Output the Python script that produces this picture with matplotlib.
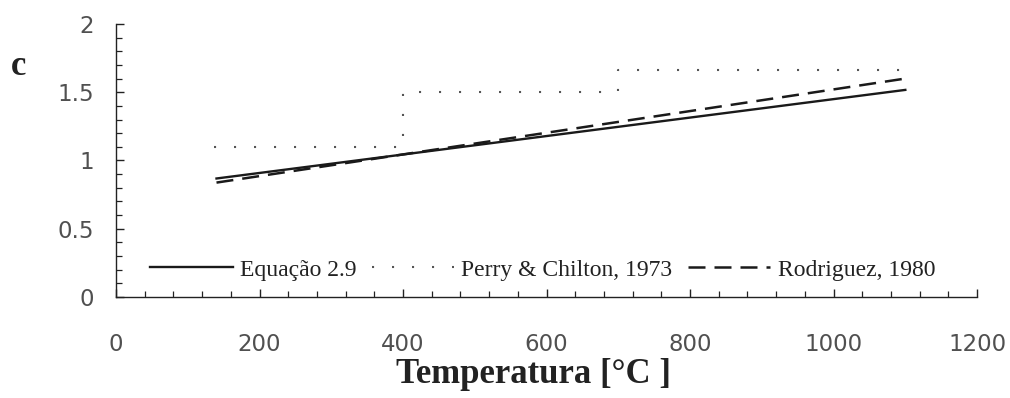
import matplotlib
matplotlib.use("Agg")
import matplotlib.pyplot as plt
from matplotlib.ticker import MultipleLocator

# Equação 2.9
eq_t = [140, 1100]
eq_c = [0.868, 1.517]

# Perry & Chilton, 1973 (degraus)
perry_t = [137, 400, 400, 700, 700, 1100]
perry_c = [1.10, 1.10, 1.50, 1.50, 1.66, 1.66]

# Rodriguez, 1980
rod_t = [140, 1100]
rod_c = [0.838, 1.60]

xticks = [0, 200, 400, 600, 800, 1000, 1200]
yticks = [0, 0.5, 1, 1.5, 2]
ylabels = ["0", "0.5", "1", "1.5", "2"]

fig = plt.figure(figsize=(10.1, 3.98), dpi=100)
ax = fig.add_axes([0.1149, 0.2538, 0.8525, 0.686])

ax.plot(eq_t, eq_c, color="#1a1a1a", linewidth=1.7, label="Equação 2.9")
ax.plot(perry_t, perry_c, color="#555555", linewidth=1.5, linestyle=(0, (1, 8.6)),
        label="Perry & Chilton, 1973")
ax.plot(rod_t, rod_c, color="#1a1a1a", linewidth=1.8, linestyle=(0, (6.8, 3.6)),
        label="Rodriguez, 1980")

ax.set_xlim(0, 1200)
ax.set_ylim(0, 2)
ax.set_xticks(xticks)
ax.set_yticks(yticks)
ax.set_yticklabels(ylabels)
ax.xaxis.set_minor_locator(MultipleLocator(40))
ax.yaxis.set_minor_locator(MultipleLocator(0.1))

for s in ["top", "right"]:
    ax.spines[s].set_visible(False)
for s in ["left", "bottom"]:
    ax.spines[s].set_linewidth(1.0)
    ax.spines[s].set_color("#222222")

ax.tick_params(which="major", direction="in", length=6, width=1, color="#222222")
ax.tick_params(which="minor", direction="in", length=4, width=0.9, color="#222222")
ax.tick_params(axis="x", which="major", pad=26)
ax.tick_params(axis="y", which="major", pad=16)
for lab in ax.get_xticklabels() + ax.get_yticklabels():
    lab.set_fontfamily(["DejaVu Sans"])
    lab.set_fontweight("normal")
    lab.set_fontsize(16.5)
    lab.set_color("#505050")

fig.text(534 / 1010, 0.0377, "Temperatura [°C ]", fontfamily="Liberation Serif",
         fontweight="bold", fontsize=25, color="#222222", ha="center", va="baseline")
fig.text(0.011, 0.8116, "c", fontfamily="Liberation Serif", fontweight="bold",
         fontsize=25, color="#222222", ha="left", va="baseline")

leg = ax.legend(loc="center left", bbox_to_anchor=(34 / 861, 0.099), ncol=3,
                frameon=False, borderpad=0, borderaxespad=0,
                handlelength=3.5, handletextpad=0.3, columnspacing=0.65,
                prop={"family": "Liberation Serif", "size": 17})
for t in leg.get_texts():
    t.set_color("#222222")

fig.savefig("out.png", dpi=100)
